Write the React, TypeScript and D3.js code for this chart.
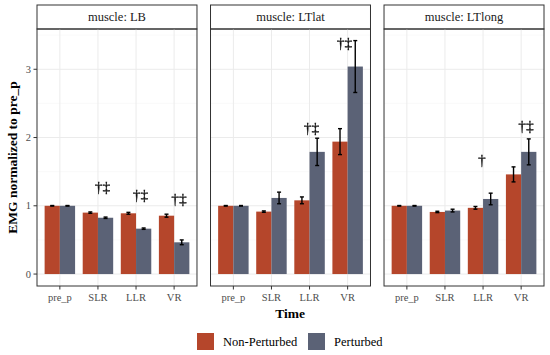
import React from "react";
import { scaleBand, scaleLinear, scalePoint } from "d3";

const muscles = ["LB", "LTlat", "LTlong"];
const times = ["pre_p", "SLR", "LLR", "VR"];
const conditions = ["Non-Perturbed", "Perturbed"];
const conditionColors = ["#b5462b", "#5b6276"];
const yTicks = [0, 1, 2, 3];
const yMinorTicks = [0.5, 1.5, 2.5, 3.5];

// mean EMG (normalized to pre_p), one array per muscle and condition
const lbNonPerturbed = [1.0, 0.9, 0.89, 0.855];
const lbPerturbed = [1.0, 0.825, 0.665, 0.465];
const ltlatNonPerturbed = [1.0, 0.915, 1.08, 1.94];
const ltlatPerturbed = [1.0, 1.115, 1.79, 3.04];
const ltlongNonPerturbed = [1.0, 0.91, 0.97, 1.46];
const ltlongPerturbed = [1.0, 0.93, 1.1, 1.79];

// standard errors
const lbNonPerturbedSe = [0.004, 0.01, 0.014, 0.022];
const lbPerturbedSe = [0.004, 0.01, 0.01, 0.035];
const ltlatNonPerturbedSe = [0.004, 0.01, 0.05, 0.19];
const ltlatPerturbedSe = [0.004, 0.085, 0.2, 0.38];
const ltlongNonPerturbedSe = [0.004, 0.01, 0.02, 0.11];
const ltlongPerturbedSe = [0.004, 0.02, 0.085, 0.19];

// significance marks
const markMuscles = ["LB", "LB", "LB", "LTlat", "LTlat", "LTlong", "LTlong"];
const markTimes = ["SLR", "LLR", "VR", "LLR", "VR", "LLR", "VR"];
const markLabels = ["†‡", "†‡", "†‡", "†‡", "†‡", "†", "†‡"];
const markValues = [1.28, 1.17, 1.1, 2.14, 3.39, 1.68, 2.18];
const markNudges = [0.12, 0.12, 0.13, 0.05, -0.08, -0.03, 0.13];

const means: Record<string, number[][]> = {
  LB: [lbNonPerturbed, lbPerturbed],
  LTlat: [ltlatNonPerturbed, ltlatPerturbed],
  LTlong: [ltlongNonPerturbed, ltlongPerturbed],
};
const ses: Record<string, number[][]> = {
  LB: [lbNonPerturbedSe, lbPerturbedSe],
  LTlat: [ltlatNonPerturbedSe, ltlatPerturbedSe],
  LTlong: [ltlongNonPerturbedSe, ltlongPerturbedSe],
};

const font = "'Liberation Serif', 'DejaVu Serif', serif";

export default function App() {
  const width = 550;
  const height = 355;
  const panelTop = 29;
  const panelBottom = 286;
  const stripTop = 5;

  const panelScale = scaleBand().domain(muscles).range([37, 544]).paddingInner(0.078);
  const pw = panelScale.bandwidth();

  const xScale = scalePoint().domain(times).range([0, pw]).padding(0.6);
  const step = xScale.step();
  const dodge = scaleBand().domain(conditions).range([-0.4 * step, 0.4 * step]);

  const yScale = scaleLinear().domain([-0.175, 3.59]).range([panelBottom, panelTop]);

  const tickColor = "#4d4d4d";
  const gridColor = "#ebebeb";

  return (
    <svg width={width} height={height} style={{ position: "absolute", left: 0, top: 0, background: "white" }} fontFamily={font}>
      <defs>
        <filter id="gray">
          <feColorMatrix type="saturate" values="0" />
        </filter>
      </defs>
      {muscles.map((m) => {
        const px = panelScale(m) ?? 0;
        return (
          <g key={m} transform={`translate(${px},0)`}>
            {/* strip */}
            <rect x={0} y={stripTop} width={pw} height={panelTop - stripTop} fill="white" stroke="#333" strokeWidth={1} />
            <text x={pw / 2} y={(stripTop + panelTop) / 2} textAnchor="middle" dominantBaseline="central" fontSize={12.5} fill="#1a1a1a">
              {`muscle: ${m}`}
            </text>
            {/* grid */}
            {yMinorTicks.map((t) => (
              <line key={"mn" + t} x1={0} x2={pw} y1={yScale(t)} y2={yScale(t)} stroke="#f5f5f5" strokeWidth={0.6} />
            ))}
            {yTicks.map((t) => (
              <line key={"mj" + t} x1={0} x2={pw} y1={yScale(t)} y2={yScale(t)} stroke={gridColor} strokeWidth={1} />
            ))}
            {times.map((t) => (
              <line key={"vx" + t} x1={xScale(t)} x2={xScale(t)} y1={panelTop} y2={panelBottom} stroke={gridColor} strokeWidth={1} />
            ))}
            {/* bars */}
            {conditions.map((c, ci) =>
              times.map((t, ti) => {
                const v = means[m][ci][ti];
                const x0 = (xScale(t) ?? 0) + (dodge(c) ?? 0);
                return (
                  <rect
                    key={c + t}
                    x={x0}
                    y={yScale(v)}
                    width={dodge.bandwidth()}
                    height={yScale(0) - yScale(v)}
                    fill={conditionColors[ci]}
                  />
                );
              })
            )}
            {/* error bars */}
            {conditions.map((c, ci) =>
              times.map((t, ti) => {
                const v = means[m][ci][ti];
                const se = ses[m][ci][ti];
                const cx = (xScale(t) ?? 0) + (dodge(c) ?? 0) + dodge.bandwidth() / 2;
                const hw = 2;
                return (
                  <g key={"e" + c + t} stroke="black" strokeWidth={1.4}>
                    <line x1={cx} x2={cx} y1={yScale(v - se)} y2={yScale(v + se)} />
                    <line x1={cx - hw} x2={cx + hw} y1={yScale(v - se)} y2={yScale(v - se)} />
                    <line x1={cx - hw} x2={cx + hw} y1={yScale(v + se)} y2={yScale(v + se)} />
                  </g>
                );
              })
            )}
            {/* significance marks */}
            <g filter="url(#gray)">
              {markMuscles.map((mm, i) =>
                mm === m ? (
                  <text
                    key={"mk" + i}
                    x={(xScale(markTimes[i]) ?? 0) + markNudges[i] * step}
                    y={yScale(markValues[i])}
                    textAnchor="middle"
                    dominantBaseline="central"
                    fontSize={15.5}
                    fill="#111"
                    stroke="#111"
                    strokeWidth={0.3}
                  >
                    {markLabels[i]}
                  </text>
                ) : null
              )}
            </g>
            {/* panel border */}
            <rect x={0} y={panelTop} width={pw} height={panelBottom - panelTop} fill="none" stroke="#333" strokeWidth={1} />
            {/* x axis */}
            {times.map((t) => (
              <g key={"xt" + t} transform={`translate(${xScale(t)},0)`}>
                <line y1={panelBottom} y2={panelBottom + 3.5} stroke="#333" strokeWidth={1} />
                <text y={panelBottom + 14.5} textAnchor="middle" fontSize={10.5} fill={tickColor}>
                  {t}
                </text>
              </g>
            ))}
          </g>
        );
      })}
      {/* y axis on first panel */}
      {yTicks.map((t) => (
        <g key={"yt" + t} transform={`translate(${panelScale(muscles[0])},${yScale(t)})`}>
          <line x1={-3.5} x2={0} stroke="#333" strokeWidth={1} />
          <text x={-6} textAnchor="end" dominantBaseline="central" fontSize={10.5} fill={tickColor}>
            {t}
          </text>
        </g>
      ))}
      {/* axis titles */}
      <text x={290} y={318} textAnchor="middle" fontSize={13.5} fontWeight="bold" fill="black">
        Time
      </text>
      <text
        transform={`translate(12,${(panelTop + panelBottom) / 2}) rotate(-90)`}
        textAnchor="middle"
        dominantBaseline="central"
        fontSize={13.5}
        fontWeight="bold"
        fill="black"
      >
        EMG normalized to pre_p
      </text>
      {/* legend */}
      {conditions.map((c, i) => {
        const lx = i === 0 ? 197 : 308;
        return (
          <g key={"lg" + c}>
            <rect x={lx} y={333} width={17} height={17} fill={conditionColors[i]} />
            <text x={lx + 26} y={341.5} dominantBaseline="central" fontSize={12.5} fill="black">
              {c}
            </text>
          </g>
        );
      })}
    </svg>
  );
}
